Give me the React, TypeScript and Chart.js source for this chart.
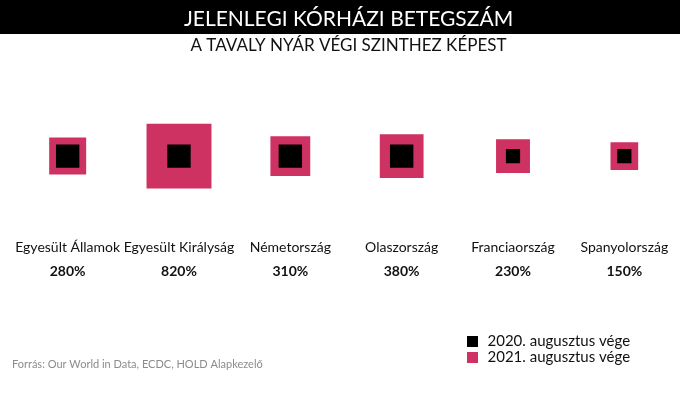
import React, { useEffect, useRef } from 'react';
import { Chart, registerables } from 'chart.js';

Chart.register(...registerables);

// ---- data ----
const countries = [
  'Egyesült Államok',
  'Egyesült Királyság',
  'Németország',
  'Olaszország',
  'Franciaország',
  'Spanyolország',
];
const changeLabels = ['280%', '820%', '310%', '380%', '230%', '150%'];
// relative hospital patient levels (square area)
const level2020 = [1, 1, 1, 1, 0.37, 0.37];
const level2021 = [2.5, 7.7, 2.9, 3.5, 2.1, 1.4];
const seriesNames = ['2020. augusztus vége', '2021. augusztus vége'];
const titleText = 'JELENLEGI KÓRHÁZI BETEGSZÁM';
const subtitleText = 'A TAVALY NYÁR VÉGI SZINTHEZ KÉPEST';
const sourceText = 'Forrás: Our World in Data, ECDC, HOLD Alapkezelő';

// ---- style ----
const PINK = 'rgb(206,50,98)';
const FONT = 'Lato, "Open Sans", sans-serif';
const UNIT_SIDE = 23.4; // square side (px) for level 1
const toRadius = (v: number) => (UNIT_SIDE * Math.sqrt(v)) / Math.SQRT2;

const bandPlugin = {
  id: 'titleBand',
  beforeDraw(chart: any) {
    const { ctx } = chart;
    ctx.save();
    ctx.fillStyle = '#000';
    ctx.fillRect(0, 0, chart.width, 34);
    ctx.restore();
  },
};

const legendPlacer = {
  id: 'legendPlacer',
  afterLayout(chart: any) {
    const lg = chart.legend;
    if (!lg) return;
    const L = 464;
    const T = 333;
    lg.left = L;
    lg.right = L + lg.width;
    lg.top = T;
    lg.height = 40;
    lg.bottom = T + 40;
  },
};

export default function App() {
  const ref = useRef<HTMLCanvasElement>(null);
  useEffect(() => {
    document.body.style.margin = '0';
    const canvas = ref.current;
    if (!canvas) return;
    const chart = new Chart(canvas, {
      type: 'bubble',
      data: {
        labels: countries,
        datasets: [
          {
            label: seriesNames[0],
            data: countries.map((c, i) => ({ x: c as any, y: 0, r: toRadius(level2020[i]) })),
            backgroundColor: '#000',
            pointStyle: 'rect',
            borderWidth: 0,
            hoverBorderWidth: 0,
          },
          {
            label: seriesNames[1],
            data: countries.map((c, i) => ({ x: c as any, y: 0, r: toRadius(level2021[i]) })),
            backgroundColor: PINK,
            pointStyle: 'rect',
            borderWidth: 0,
            hoverBorderWidth: 0,
          },
        ],
      },
      options: {
        responsive: false,
        animation: false,
        events: [],
        layout: { autoPadding: false, padding: { left: 12, right: -5, top: 0, bottom: 0 } },
        plugins: {
          title: {
            display: true,
            text: titleText,
            color: '#fff',
            font: { family: FONT, size: 21, weight: 'normal', lineHeight: 1.2 },
            padding: { top: 7, bottom: 1.8 },
          },
          subtitle: {
            display: true,
            text: subtitleText,
            color: '#111',
            font: { family: FONT, size: 17, weight: 'normal', lineHeight: 1.2 },
            padding: { top: 1.6, bottom: 17 },
          },
          legend: {
            position: 'chartArea',
            align: 'start',
            labels: {
              usePointStyle: true,
              boxHeight: 11,
              color: '#111',
              padding: 1,
              font: { family: FONT, size: 15 },
            },
          },
          tooltip: { enabled: false },
        },
        scales: {
          x: {
            type: 'category',
            offset: true,
            grid: { display: false, drawTicks: false },
            border: { display: false },
            ticks: {
              color: '#111',
              padding: 0,
              autoSkip: false,
              maxRotation: 0,
              font: { family: FONT, size: 14 },
            },
          },
          x2: {
            type: 'category',
            position: 'bottom',
            labels: changeLabels,
            offset: true,
            grid: { display: false, drawTicks: false },
            border: { display: false },
            ticks: {
              color: '#111',
              padding: 7,
              autoSkip: false,
              maxRotation: 0,
              font: { family: FONT, size: 14, weight: 'bold' },
            },
            title: {
              display: true,
              text: sourceText,
              align: 'start',
              color: '#8c8c8c',
              font: { family: FONT, size: 11 },
              padding: { top: 71, bottom: 25 },
            },
          },
          y: { display: false, min: -1, max: 1 },
        },
      } as any,
      plugins: [bandPlugin, legendPlacer],
    });
    return () => chart.destroy();
  }, []);
  return <canvas ref={ref} width={680} height={396} style={{ display: 'block' }} />;
}
